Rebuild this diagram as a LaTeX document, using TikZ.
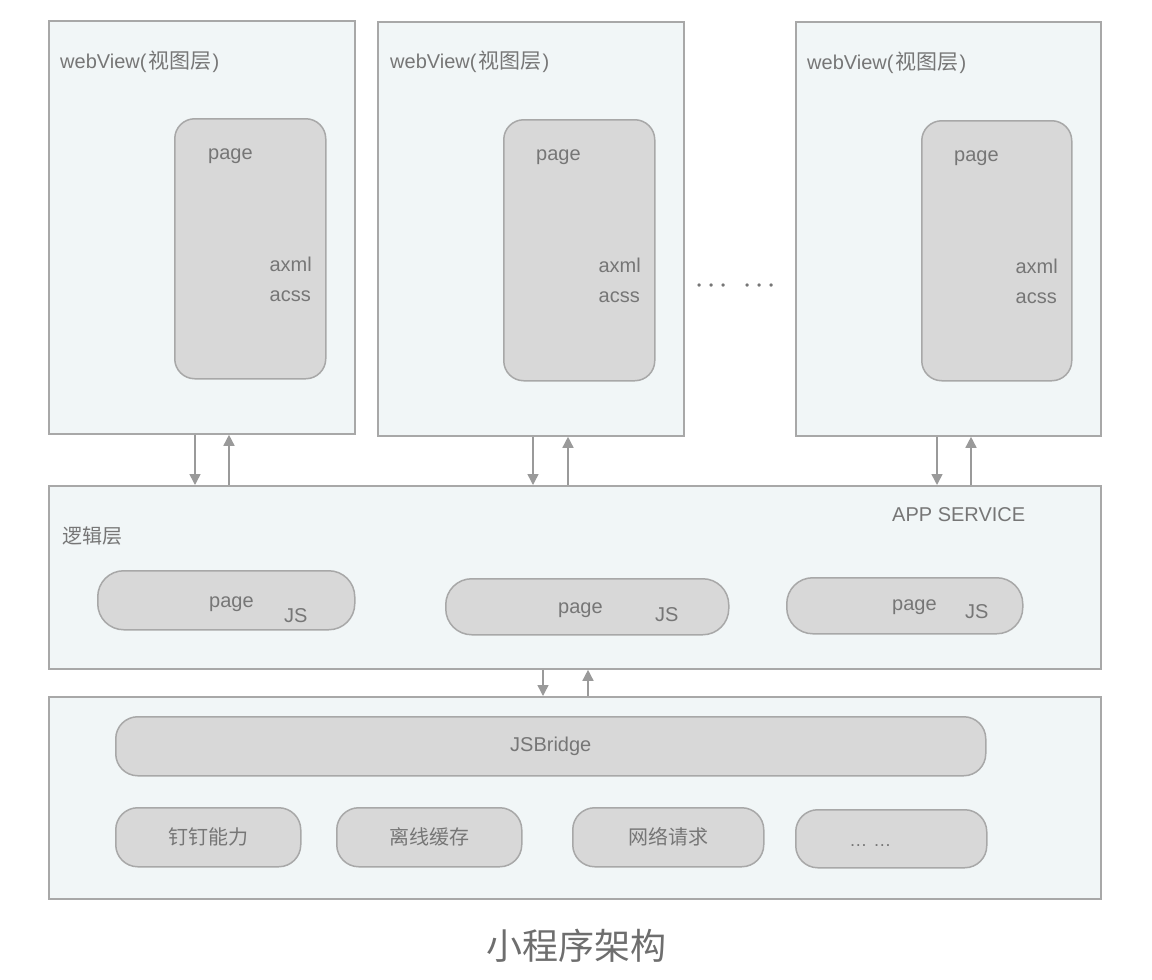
\documentclass[tikz,border=0pt]{standalone}
\usepackage{fontspec}
\setmainfont{Liberation Sans}
\newfontfamily\cjk{Noto Sans CJK SC}
\usetikzlibrary{arrows.meta,calc}
\definecolor{boxfill}{HTML}{F1F6F7}
\definecolor{boxline}{HTML}{A8A8A8}
\definecolor{pillfill}{HTML}{D8D8D8}
\definecolor{pillline}{HTML}{A8A8A8}
\definecolor{txt}{HTML}{767676}
\definecolor{arrowc}{HTML}{9A9A9A}
\definecolor{captxt}{HTML}{6E6E6E}
\newcommand{\wvlabel}{webView(\hspace{1.5pt}{\cjk\fontsize{21}{24}\selectfont 视图层}\hspace{1.5pt})}
\begin{document}
\begin{tikzpicture}[x=1pt,y=-1pt,
  panel/.style={draw=boxline, line width=1.8pt, fill=boxfill, rectangle, anchor=north west, inner sep=0pt},
  pill/.style={draw=pillline, line width=1.5pt, fill=pillfill, rectangle, rounded corners=22pt, anchor=north west, inner sep=0pt, text=txt, font=\cjk\fontsize{20}{24}\selectfont},
  lbl/.style={text=txt, font=\fontsize{20}{24}\selectfont, inner sep=0pt, anchor=base west},
  lble/.style={lbl, anchor=base east},
  arr/.style={draw=arrowc, line width=1.5pt, -{Triangle[length=11pt,width=11pt]}}]
\fill[white] (0,0) rectangle (1152,980);
\useasboundingbox (0,0) rectangle (1152,980);

% webView panels
\node[panel, minimum width=306pt, minimum height=413pt] (wv1) at (48,20) {};
\node[panel, minimum width=306pt, minimum height=414pt] (wv2) at (377,21) {};
\node[panel, minimum width=305pt, minimum height=414pt] (wv3) at (795,21) {};

\node[pill, rounded corners=20pt, minimum width=151pt, minimum height=260pt] (pg1) at (174,118) {};
\node[pill, rounded corners=20pt, minimum width=151pt, minimum height=261pt] (pg2) at (503,119) {};
\node[pill, rounded corners=20pt, minimum width=150pt, minimum height=260pt] (pg3) at (921,120) {};

\node[lbl] (wt1) at (60,68) {\wvlabel};
\node[lbl] (wt2) at (390,68) {\wvlabel};
\node[lbl] (wt3) at (807,69) {\wvlabel};

\node[lbl] (p1) at (208,159) {page};
\node[lble] (x1) at (312,271) {axml};
\node[lble] (c1) at (311,301) {acss};
\node[lbl] (p2) at (536,160) {page};
\node[lble] (x2) at (641,272) {axml};
\node[lble] (c2) at (640,302) {acss};
\node[lbl] (p3) at (954,161) {page};
\node[lble] (x3) at (1058,273) {axml};
\node[lble] (c3) at (1057,303) {acss};

\node[lbl, anchor=west, font=\fontsize{12}{12}\selectfont] (dots) at (697,287)
  {•\hspace{7.8pt}•\hspace{7.8pt}•\hspace{19.8pt}•\hspace{7.8pt}•\hspace{7.8pt}•};

% logic layer
\node[panel, minimum width=1052pt, minimum height=183pt] (logic) at (48,485) {};
\node[lbl, anchor=west, font=\cjk\fontsize{20}{24}\selectfont] (lt) at (62,536) {逻辑层};
\node[lbl] (app) at (892,521) {APP SERVICE};

\node[pill, rounded corners=26pt, minimum width=257pt, minimum height=59pt] (lp1) at (97,570) {};
\node[pill, rounded corners=26pt, minimum width=283pt, minimum height=56pt] (lp2) at (445,578) {};
\node[pill, rounded corners=26pt, minimum width=236pt, minimum height=56pt] (lp3) at (786,577) {};
\node[lbl] (lpp1) at (209,607) {page};
\node[lbl] (lpj1) at (284,622) {JS};
\node[lbl] (lpp2) at (558,613) {page};
\node[lbl] (lpj2) at (655,621) {JS};
\node[lbl] (lpp3) at (892,610) {page};
\node[lbl] (lpj3) at (965,618) {JS};

% bottom layer
\node[panel, minimum width=1052pt, minimum height=202pt] (base) at (48,696) {};
\node[pill, minimum width=870pt, minimum height=59pt, font=\fontsize{20}{24}\selectfont] (jsb) at (115,716) {JSBridge};
\node[pill, minimum width=185pt, minimum height=59pt] (b1) at (115,807) {钉钉能力};
\node[pill, minimum width=185pt, minimum height=59pt] (b2) at (336,807) {离线缓存};
\node[pill, minimum width=191pt, minimum height=59pt] (b3) at (572,807) {网络请求};
\node[pill, minimum width=191pt, minimum height=58pt] (b4) at (795,809) {};
\node[lbl, anchor=center, font=\fontsize{18}{18}\selectfont] (b4t) at ($(b4.center)+(-21,7)$) {…\hspace{6pt}…};

% arrows
\coordinate (a1d) at ($(wv1.south west)+(147,0)$);
\coordinate (a1u) at ($(wv1.south west)+(181,0)$);
\coordinate (a2d) at ($(wv2.south west)+(156,0)$);
\coordinate (a2u) at ($(wv2.south west)+(191,0)$);
\coordinate (a3d) at ($(wv3.south west)+(142,0)$);
\coordinate (a3u) at ($(wv3.south west)+(176,0)$);
\draw[arr] (a1d) -- (a1d |- logic.north);
\draw[arr] (a1u |- logic.north) -- (a1u);
\draw[arr] (a2d) -- (a2d |- logic.north);
\draw[arr] (a2u |- logic.north) -- (a2u);
\draw[arr] (a3d) -- (a3d |- logic.north);
\draw[arr] (a3u |- logic.north) -- (a3u);

\coordinate (a4d) at ($(logic.south west)+(495,0)$);
\coordinate (a4u) at ($(logic.south west)+(540,0)$);
\draw[arr] (a4d) -- (a4d |- base.north);
\draw[arr] (a4u |- base.north) -- (a4u);

% caption
\node[font=\cjk\fontsize{36}{40}\selectfont, text=captxt, inner sep=0pt] (cap) at (576,946) {小程序架构};
\end{tikzpicture}
\end{document}
